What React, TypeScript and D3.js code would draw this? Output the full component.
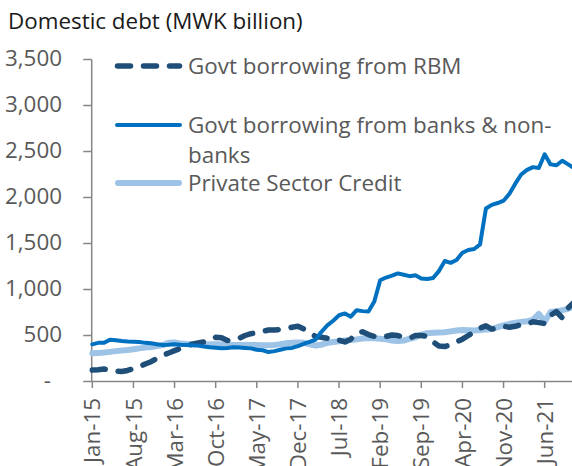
import React from "react";
import * as d3 from "d3";

const months: string[] = d3
  .timeMonth.range(new Date(2015, 0, 1), new Date(2021, 11, 1))
  .map((d) => d3.timeFormat("%b-%y")(d));

const rbm: number[] = [
  125, 128, 135, 130, 112, 108, 120, 140, 160, 190, 215, 252, 285, 310, 335, 360, 385, 405, 420, 430,
  450, 480, 475, 445, 450, 470, 500, 520, 530, 545, 560, 560, 565, 575, 590, 600, 570, 530, 490, 480,
  470, 475, 450, 430, 460, 530, 540, 510, 490, 480, 490, 505, 500, 480, 470, 500, 500, 490, 430, 385,
  380, 400, 430, 460, 500, 540, 580, 605, 570, 580, 600, 590, 600, 620, 625, 650, 640, 630, 720, 760,
  690, 800, 860,
];

const banks: number[] = [
  404, 420, 420, 455, 448, 440, 435, 433, 430, 420, 415, 405, 397, 400, 405, 400, 398, 395, 390, 380,
  372, 368, 362, 365, 372, 370, 365, 360, 345, 340, 320, 330, 345, 360, 365, 385, 410, 430, 455, 540,
  610, 660, 720, 740, 705, 775, 765, 760, 870, 1100, 1130, 1150, 1175, 1160, 1145, 1155, 1120, 1115, 1125, 1200,
  1310, 1290, 1320, 1400, 1430, 1440, 1490, 1880, 1920, 1940, 1965, 2040, 2150, 2250, 2300, 2330, 2320, 2470, 2360, 2350,
  2400, 2360, 2320,
];

const privateCredit: number[] = [
  306, 310, 315, 322, 330, 338, 342, 350, 360, 368, 375, 385, 395, 420, 425, 412, 408, 405, 405, 403,
  405, 405, 402, 400, 398, 397, 398, 396, 397, 395, 394, 398, 405, 415, 422, 425, 420, 405, 392, 400,
  420, 430, 438, 445, 450, 458, 468, 472, 470, 465, 458, 445, 440, 445, 465, 480, 510, 525, 530, 532,
  535, 545, 555, 560, 558, 555, 560, 565, 570, 590, 610, 625, 640, 648, 655, 670, 735, 650, 755, 765,
  775, 790, 815,
];

const yTicks: number[] = [0, 500, 1000, 1500, 2000, 2500, 3000, 3500];
const tickEvery = 7;

const seriesNames = [
  "Govt borrowing from RBM",
  "Govt borrowing from banks & non-banks",
  "Private Sector Credit",
];

const FONT = "'Open Sans', sans-serif";
const FS = 22.4;

export default function App() {
  const W = 572;
  const H = 466;
  const x0 = 92.3;
  const step = 5.875;
  const x = d3.scaleLinear().domain([0, months.length - 1]).range([x0, x0 + step * (months.length - 1)]);
  const y = d3.scaleLinear().domain([0, 3500]).range([381.5, 59.5]);
  const line = d3
    .line<number>()
    .x((_, i) => x(i))
    .y((d) => y(d))
    .curve(d3.curveLinear);

  const axisColor = "#868686";
  const textColor = "#595959";
  const fmt = d3.format(",");
  const axisX = 91.7;

  const legendX1 = 115;
  const legendX2 = 182;
  const legendTextX = 188;

  return (
    <svg
      width={W}
      height={H}
      style={{ position: "absolute", left: 0, top: 0, background: "#fff" }}
      fontFamily={FONT}
    >
      <rect x={0} y={0} width={W} height={H} fill="#fff" />
      <text x={8} y={29} fontSize={FS} fill="#1a1a1a">
        Domestic debt (MWK billion)
      </text>

      {/* y axis */}
      <line x1={axisX} x2={axisX} y1={y(3500)} y2={y(0)} stroke={axisColor} strokeWidth={1.5} />
      {yTicks.map((t) => (
        <g key={t}>
          <line x1={axisX - 8.5} x2={axisX} y1={y(t)} y2={y(t)} stroke={axisColor} strokeWidth={1.5} />
          <text
            x={t === 0 ? 51 : 62}
            y={y(t) + 6}
            textAnchor="end"
            fontSize={FS}
            fill={textColor}
          >
            {t === 0 ? "-" : fmt(t)}
          </text>
        </g>
      ))}

      {/* x axis */}
      <line x1={axisX} x2={W} y1={y(0)} y2={y(0)} stroke={axisColor} strokeWidth={1.5} />
      {months.map((m, i) =>
        i % tickEvery === 0 ? (
          <g key={m}>
            <line x1={x(i)} x2={x(i)} y1={y(0)} y2={y(0) + 6.5} stroke={axisColor} strokeWidth={1.5} />
            <text
              transform={`translate(${x(i)},398) rotate(-90)`}
              textAnchor="end"
              dy="0.36em"
              fontSize={FS}
              fill={textColor}
            >
              {m}
            </text>
          </g>
        ) : null
      )}

      {/* series */}
      <path d={line(privateCredit) || ""} fill="none" stroke="#9DC3E6" strokeWidth={6} strokeLinejoin="round" strokeLinecap="round" />
      <path d={line(rbm) || ""} fill="none" stroke="#1F4E79" strokeWidth={5.5} strokeDasharray="13 13" strokeLinejoin="round" strokeLinecap="round" />
      <path d={line(banks) || ""} fill="none" stroke="#0070C0" strokeWidth={4} strokeLinejoin="round" strokeLinecap="round" />

      {/* legend */}
      <line x1={legendX1 + 2.5} x2={legendX2 - 2.5} y1={66} y2={66} stroke="#1F4E79" strokeWidth={5.5} strokeDasharray="13 13" strokeLinecap="round" />
      <text x={legendTextX} y={74} fontSize={FS} fill={textColor}>{seriesNames[0]}</text>

      <line x1={legendX1 + 2} x2={legendX2 - 2} y1={125} y2={125} stroke="#0070C0" strokeWidth={4} strokeLinecap="round" />
      <text x={legendTextX} y={133} fontSize={FS} fill={textColor}>Govt borrowing from banks &amp; non-</text>
      <text x={legendTextX} y={163} fontSize={FS} fill={textColor}>banks</text>

      <line x1={legendX1 + 3} x2={legendX2 - 3} y1={183} y2={183} stroke="#9DC3E6" strokeWidth={6} strokeLinecap="round" />
      <text x={legendTextX} y={191} fontSize={FS} fill={textColor}>{seriesNames[2]}</text>
    </svg>
  );
}
